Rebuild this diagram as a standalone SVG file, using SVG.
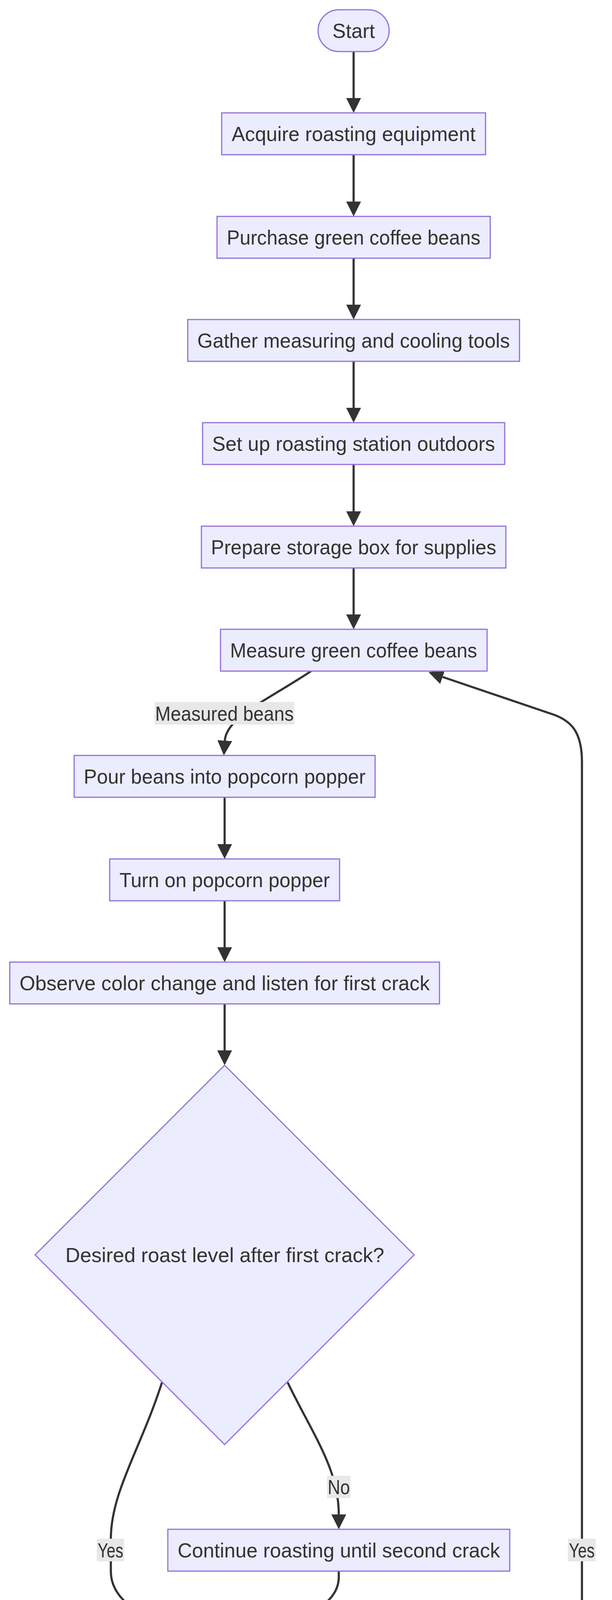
<svg xmlns="http://www.w3.org/2000/svg" width="1568" height="7310" viewBox="0 0 1568 7310">
<style>
.n rect, .n polygon { fill: #ECECFF; stroke: #9370DB; stroke-width: 3; }
text { font-family: "Liberation Sans", Arial, sans-serif; font-size: 52px; fill: #333333; text-anchor: middle; }
.e path { fill: none; stroke: #333333; stroke-width: 5.5; marker-end: url(#arrow); }
.lb rect { fill: #E8E8E8; }
</style>
<defs>
<marker id="arrow" viewBox="0 0 10 10" refX="0" refY="5" markerUnits="userSpaceOnUse" markerWidth="38" markerHeight="38" orient="auto">
<path d="M0,0 L10,5 L0,10 z" fill="#333333"/>
</marker>
</defs>
<rect x="0" y="0" width="1568" height="7310" fill="#FFFFFF"/>
<g id="connectors" class="e">
<path d="M906,132 V251"/>
<path d="M906,396 V516"/>
<path d="M906,661 V780"/>
<path d="M906,925 V1044"/>
<path d="M906,1189 V1309"/>
<path d="M906,1454 V1573"/>
<path d="M797,1718 C690,1790 580,1835 576,1896"/>
<path d="M575.5,2041 V2161"/>
<path d="M575.5,2306 V2425"/>
<path d="M575.5,2570 V2689"/>
<path d="M737,3539 C800,3670 868,3760 868,3877"/>
<path d="M415,3539 C360,3710 284,3820 284,3940 L284,4023 C284,4090 350,4130 423,4162"/>
<path d="M868,4022 L868,4037 C868,4100 800,4130 727,4162"/>
<path d="M575.5,4286 V4405"/>
<path d="M575.5,4550 V4669"/>
<path d="M575.5,4814 V4993"/>
<path d="M576,5138 L576,5165 C576,5230 630,5290 723,5428"/>
<path d="M1128,5515 L1330,5340 C1420,5262 1491,5190 1491,5080 L1491,1950 C1491,1870 1460,1845 1420,1830 L1134,1733"/>
<path d="M906,6092 V6271"/>
<path d="M906,6416 V6535"/>
<path d="M906,6680 V6798"/>
<path d="M906,6943 V7055"/>
</g>
<g id="edge-labels" class="lb">
<g id="lbl-measured"><rect x="396" y="1797" width="358" height="58"/><text x="575" y="1844.6" textLength="355" lengthAdjust="spacingAndGlyphs">Measured beans</text></g>
<g id="lbl-no1"><rect x="838" y="3778" width="60" height="57"/><text x="868" y="3825" textLength="57" lengthAdjust="spacingAndGlyphs">No</text></g>
<g id="lbl-yes1"><rect x="248" y="3939" width="70" height="58"/><text x="283" y="3986.6" textLength="66" lengthAdjust="spacingAndGlyphs">Yes</text></g>
<g id="lbl-yes2"><rect x="1455" y="3939" width="71" height="58"/><text x="1490.5" y="3986.6" textLength="66" lengthAdjust="spacingAndGlyphs">Yes</text></g>
<g id="lbl-cooled"><rect x="425" y="4894" width="300" height="58"/><text x="575" y="4941.6" textLength="296" lengthAdjust="spacingAndGlyphs">Cooled beans</text></g>
<g id="lbl-no2"><rect x="876" y="6172" width="60" height="58"/><text x="906" y="6219.6" textLength="57" lengthAdjust="spacingAndGlyphs">No</text></g>
</g>
<g id="start" class="n"><rect x="815" y="25" width="182" height="107" rx="53.5" ry="53.5"/><text x="906" y="97" textLength="109" lengthAdjust="spacingAndGlyphs">Start</text></g>
<g id="acquire" class="n"><rect x="568" y="289" width="676" height="107"/><text x="906" y="361" textLength="625" lengthAdjust="spacingAndGlyphs">Acquire roasting equipment</text></g>
<g id="purchase" class="n"><rect x="556" y="554" width="700" height="107"/><text x="906" y="626" textLength="650" lengthAdjust="spacingAndGlyphs">Purchase green coffee beans</text></g>
<g id="gather" class="n"><rect x="481" y="818" width="850" height="107"/><text x="906" y="890" textLength="801" lengthAdjust="spacingAndGlyphs">Gather measuring and cooling tools</text></g>
<g id="setup" class="n"><rect x="519" y="1082" width="774" height="107"/><text x="906" y="1154" textLength="725" lengthAdjust="spacingAndGlyphs">Set up roasting station outdoors</text></g>
<g id="prepare" class="n"><rect x="516" y="1347" width="780" height="107"/><text x="906" y="1419" textLength="731" lengthAdjust="spacingAndGlyphs">Prepare storage box for supplies</text></g>
<g id="measure" class="n"><rect x="565" y="1611" width="683" height="107"/><text x="906" y="1683" textLength="633" lengthAdjust="spacingAndGlyphs">Measure green coffee beans</text></g>
<g id="pour" class="n"><rect x="190" y="1934" width="771" height="107"/><text x="575.5" y="2006" textLength="722" lengthAdjust="spacingAndGlyphs">Pour beans into popcorn popper</text></g>
<g id="turnon" class="n"><rect x="281" y="2199" width="589" height="107"/><text x="575.5" y="2271" textLength="539" lengthAdjust="spacingAndGlyphs">Turn on popcorn popper</text></g>
<g id="observe" class="n"><rect x="25" y="2463" width="1101" height="107"/><text x="575.5" y="2535" textLength="1051" lengthAdjust="spacingAndGlyphs">Observe color change and listen for first crack</text></g>
<g id="desired" class="n"><polygon points="575.5,2727 1061,3212.5 575.5,3698 90,3212.5"/><text x="576" y="3231" textLength="817" lengthAdjust="spacingAndGlyphs">Desired roast level after first crack?</text></g>
<g id="continue" class="n"><rect x="430" y="3915" width="876" height="107"/><text x="868" y="3987" textLength="826" lengthAdjust="spacingAndGlyphs">Continue roasting until second crack</text></g>
<g id="turnoff" class="n"><rect x="276" y="4179" width="599" height="107"/><text x="575.5" y="4251" textLength="549" lengthAdjust="spacingAndGlyphs">Turn off popcorn popper</text></g>
<g id="dump" class="n"><rect x="137" y="4443" width="877" height="107"/><text x="575.5" y="4515" textLength="827" lengthAdjust="spacingAndGlyphs">Dump beans into round bottom bowl</text></g>
<g id="cool" class="n"><rect x="146" y="4707" width="858" height="107"/><text x="575" y="4779" textLength="808" lengthAdjust="spacingAndGlyphs">Cool beans using strainer and bowls</text></g>
<g id="transfer" class="n"><rect x="145" y="5031" width="860" height="107"/><text x="575" y="5103" textLength="811" lengthAdjust="spacingAndGlyphs">Transfer beans to flat bottom bowls</text></g>
<g id="additional" class="n"><polygon points="906,5295 1304.5,5693.5 906,6092 507.5,5693.5"/><text x="906" y="5712" textLength="641" lengthAdjust="spacingAndGlyphs">Roasting additional batches?</text></g>
<g id="store" class="n"><rect x="504" y="6309" width="804" height="107"/><text x="906" y="6381" textLength="755" lengthAdjust="spacingAndGlyphs">Store beans in air-tight container</text></g>
<g id="label" class="n"><rect x="403" y="6573" width="1006" height="107"/><text x="906" y="6645" textLength="956" lengthAdjust="spacingAndGlyphs">Label container with roast type and origin</text></g>
<g id="clean" class="n"><rect x="476" y="6836" width="860" height="107"/><text x="906" y="6908" textLength="811" lengthAdjust="spacingAndGlyphs">Clean equipment and store supplies</text></g>
<g id="end" class="n"><rect x="828" y="7093" width="156" height="106" rx="53" ry="53"/><text x="906" y="7164.6" textLength="82" lengthAdjust="spacingAndGlyphs">End</text></g>
</svg>
